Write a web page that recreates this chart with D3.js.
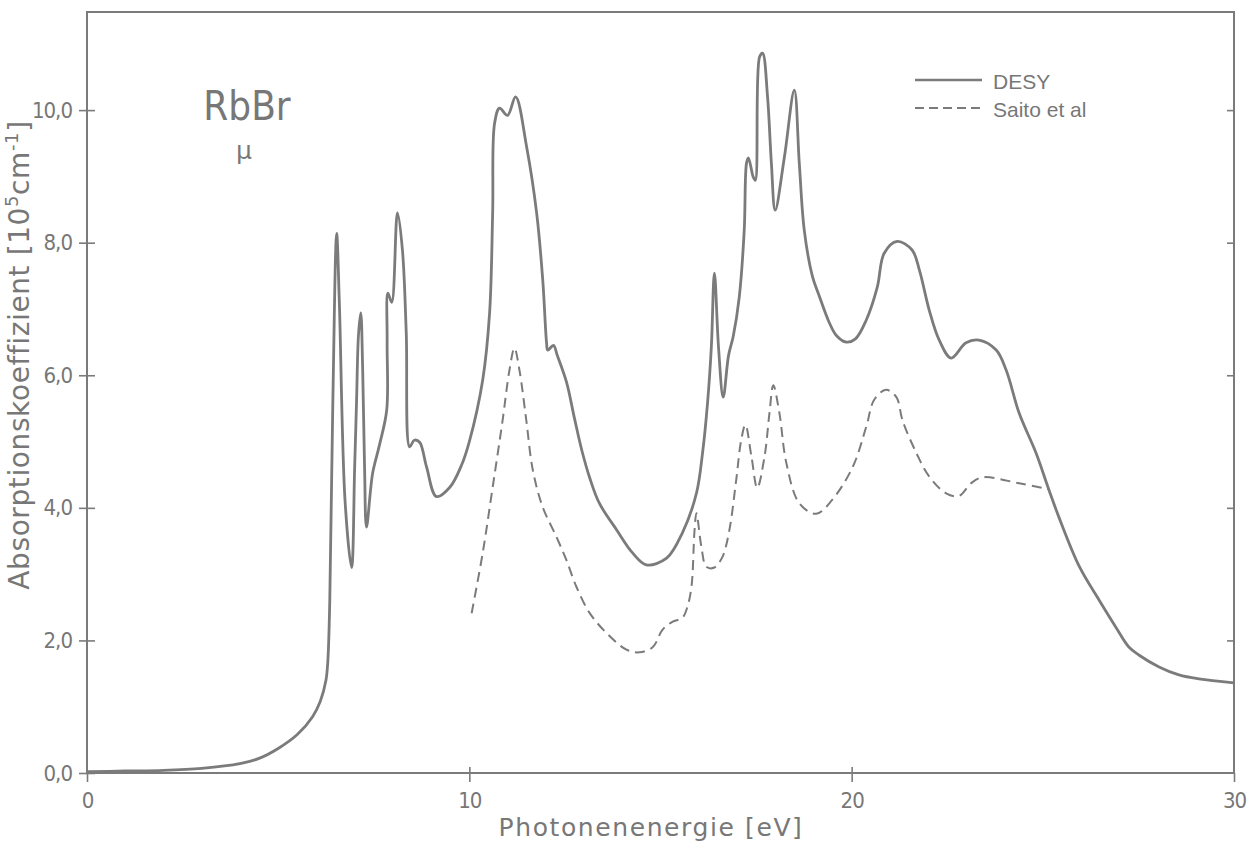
<!DOCTYPE html>
<html>
<head>
<meta charset="utf-8">
<script src="https://cdn.jsdelivr.net/npm/d3@7"></script>
<style>
  body { margin: 0; background: #fff; }
  text { fill: #777; font-family: "DejaVu Sans", sans-serif; }
</style>
</head>
<body>
<script>
// DESY measurement (photon energy in eV, absorption in 10^5 cm^-1)
var desyE = [0, 1, 2, 3, 4, 4.5, 5.0, 5.5, 5.9, 6.1, 6.25, 6.3, 6.35, 6.43, 6.53, 6.6, 6.75, 6.92,
  7.0, 7.05, 7.1, 7.16, 7.21, 7.26, 7.31, 7.47, 7.65, 7.84, 7.85, 7.87, 7.97, 8.12, 8.25, 8.35, 8.44,
  8.56, 8.70, 8.88, 9.14, 9.49, 9.8, 10.0, 10.35, 10.53, 10.61, 10.66, 10.79, 11.0, 11.21, 11.5, 11.76,
  11.92, 12.02, 12.05, 12.2, 12.3, 12.54, 12.75, 12.95, 13.15, 13.4, 13.85, 14.27, 14.63, 15.16, 15.57,
  15.94, 16.1, 16.23, 16.33, 16.41, 16.52, 16.64, 16.78, 16.9, 17.06, 17.19, 17.25, 17.3, 17.42, 17.48,
  17.59, 17.67, 17.8, 17.9, 18.0, 18.24, 18.5, 18.63, 18.76, 18.97, 19.15, 19.41, 19.6, 19.86, 20.1,
  20.38, 20.67, 20.85, 21.19, 21.58, 21.77, 22.03, 22.29, 22.6, 22.99, 23.33, 23.78, 24.04, 24.38,
  24.82, 25.16, 25.42, 25.95, 26.47, 26.91, 27.25, 27.51, 28.04, 28.56, 29.08, 30];
var desyMu = [0.02, 0.03, 0.04, 0.07, 0.14, 0.22, 0.37, 0.58, 0.85, 1.08, 1.4, 1.7, 2.6, 5.6, 8.14, 7.1, 4.1, 3.1,
  4.6, 5.6, 6.6, 6.94, 6.1, 4.6, 3.71, 4.52, 4.95, 5.48, 6.5, 7.24, 7.1, 8.45, 7.89, 6.64, 4.92,
  5.02, 4.99, 4.62, 4.17, 4.31, 4.65, 5.0, 5.93, 6.94, 8.45, 9.8, 10.03, 9.92, 10.2, 9.44, 8.45,
  7.44, 6.49, 6.38, 6.45, 6.3, 5.9, 5.35, 4.85, 4.45, 4.07, 3.67, 3.32, 3.14, 3.24, 3.62,
  4.22, 4.83, 5.58, 6.43, 7.54, 6.4, 5.67, 6.3, 6.58, 7.18, 8.19, 9.2, 9.28, 9.0, 8.94,
  10.8, 10.86, 10.2, 9.2, 8.49, 9.29, 10.3, 9.2, 8.19, 7.5, 7.2, 6.8, 6.6, 6.5, 6.55,
  6.83, 7.33, 7.84, 8.02, 7.89, 7.59, 6.98, 6.53, 6.26, 6.49, 6.53, 6.38, 6.08, 5.43,
  4.83, 4.27, 3.86, 3.12, 2.61, 2.2, 1.9, 1.78, 1.6, 1.48, 1.42, 1.36];

// Saito et al
var saitoE = [10.06, 10.35, 10.61, 10.87, 11.05, 11.18, 11.31, 11.49, 11.66, 11.92, 12.28, 12.54, 12.8,
  13.14, 13.59, 14.11, 14.45, 14.8, 15.05, 15.31, 15.57, 15.7, 15.81, 15.89, 15.94, 16.07, 16.2, 16.41,
  16.62, 16.8, 16.98, 17.11, 17.22, 17.38, 17.53, 17.72, 17.85, 17.95, 18.11, 18.29, 18.63, 19.07,
  19.49, 20.03, 20.38, 20.59, 20.9, 21.17, 21.33, 21.69, 22.03, 22.47, 22.81, 23.12, 23.42, 24.38, 25.16];
var saitoMu = [2.41, 3.32, 4.31, 5.32, 6.08, 6.41, 6.08, 5.32, 4.57, 4.01, 3.56, 3.21, 2.81,
  2.42, 2.11, 1.86, 1.82, 1.9, 2.16, 2.28, 2.34, 2.5, 2.81, 3.66, 3.92, 3.41, 3.11, 3.1,
  3.26, 3.66, 4.42, 5.02, 5.25, 4.77, 4.3, 4.77, 5.43, 5.85, 5.43, 4.68, 4.07, 3.91,
  4.12, 4.62, 5.22, 5.63, 5.78, 5.67, 5.32, 4.83, 4.47, 4.22, 4.18, 4.37, 4.46, 4.37, 4.28];

var xTicks = [0, 10, 20, 30];
var yTicks = [0, 2, 4, 6, 8, 10];
var seriesNames = ["DESY", "Saito et al"];

var desy = desyE.map(function (e, i) { return { e: e, v: desyMu[i] }; });
var saito = saitoE.map(function (e, i) { return { e: e, v: saitoMu[i] }; });

var ink = "#7b7b7b";
var margin = { top: 12, right: 17, bottom: 72, left: 87 },
    width = 1251 - margin.left - margin.right,
    height = 845 - margin.top - margin.bottom;

var svg = d3.select("body").append("svg")
    .attr("width", 1251)
    .attr("height", 845)
  .append("g")
    .attr("transform", "translate(" + margin.left + "," + margin.top + ")");

var x = d3.scaleLinear().domain([0, 30]).range([0, width]);
var y = d3.scaleLinear().domain([0, 11.48]).range([height, 0]);

var comma = function (d) { return d3.format(".1f")(d).replace(".", ","); };

// frame
svg.append("rect")
    .attr("width", width).attr("height", height)
    .attr("fill", "none").attr("stroke", ink).attr("stroke-width", 2);

// left axis, ticks cross the frame line
svg.append("g")
    .call(d3.axisLeft(y).tickValues(yTicks).tickSize(8).tickPadding(7).tickFormat(comma));
svg.append("g")
    .call(d3.axisRight(y).tickValues(yTicks).tickSize(8).tickFormat(""));
// right side, inward ticks
svg.append("g")
    .attr("transform", "translate(" + width + ",0)")
    .call(d3.axisLeft(y).tickValues(yTicks.slice(1)).tickSize(7).tickFormat(""));

// bottom axis
svg.append("g")
    .attr("transform", "translate(0," + height + ")")
    .call(d3.axisBottom(x).tickValues(xTicks).tickSize(9).tickPadding(10).tickFormat(d3.format("d")));
svg.append("g")
    .attr("transform", "translate(0," + height + ")")
    .call(d3.axisTop(x).tickValues([10, 20]).tickSize(6).tickFormat(""));

svg.selectAll(".domain").remove();
svg.selectAll(".tick line").attr("stroke", ink).attr("stroke-width", 1.6);
svg.selectAll(".tick text")
    .attr("fill", ink)
    .style("font-family", "'DejaVu Sans Condensed', 'DejaVu Sans', sans-serif")
    .style("font-size", "22px")
    .style("letter-spacing", "-1px");

// curves
var line = d3.line()
    .x(function (d) { return x(d.e); })
    .y(function (d) { return y(d.v); })
    .curve(d3.curveCatmullRom.alpha(0.5));

svg.append("path")
    .datum(desy)
    .attr("d", line)
    .attr("fill", "none")
    .attr("stroke", ink)
    .attr("stroke-width", 2.8)
    .attr("stroke-linejoin", "round");

svg.append("path")
    .datum(saito)
    .attr("d", line)
    .attr("fill", "none")
    .attr("stroke", ink)
    .attr("stroke-width", 2)
    .attr("stroke-dasharray", "10,6");

// axis titles
svg.append("text")
    .attr("x", 564)
    .attr("y", 824)
    .attr("text-anchor", "middle")
    .style("font-size", "25px")
    .style("letter-spacing", "1.6px")
    .text("Photonenenergie  [eV]");

var yt = svg.append("text")
    .attr("transform", "translate(-58," + (355 - margin.top) + ") rotate(-90)")
    .attr("text-anchor", "middle")
    .style("font-size", "28px")
    .style("letter-spacing", "0.6px");
yt.append("tspan").text("Absorptionskoeffizient  [10");
yt.append("tspan").attr("dy", -11).style("font-size", "18px").text("5");
yt.append("tspan").attr("dy", 11).text("cm");
yt.append("tspan").attr("dy", -11).style("font-size", "18px").text("-1");
yt.append("tspan").attr("dy", 11).text("]");

// compound label
svg.append("text")
    .attr("x", 160)
    .attr("y", 108)
    .attr("text-anchor", "middle")
    .style("font-family", "'DejaVu Sans Condensed', 'DejaVu Sans', sans-serif")
    .style("font-size", "40px")
    .text("RbBr");
svg.append("text")
    .attr("x", 157)
    .attr("y", 147)
    .attr("text-anchor", "middle")
    .style("font-size", "25px")
    .text("μ");

// legend
var legend = svg.append("g").attr("transform", "translate(" + (915 - margin.left) + "," + (80 - margin.top) + ")");
legend.selectAll("line")
    .data(seriesNames)
    .enter().append("line")
    .attr("x1", 0).attr("x2", 67)
    .attr("y1", function (d, i) { return i * 28; })
    .attr("y2", function (d, i) { return i * 28; })
    .attr("stroke", ink)
    .attr("stroke-width", function (d, i) { return i ? 1.8 : 2.4; })
    .attr("stroke-dasharray", function (d, i) { return i ? "9,5" : null; });
legend.selectAll("text")
    .data(seriesNames)
    .enter().append("text")
    .attr("x", 78)
    .attr("y", function (d, i) { return i * 28 + 9; })
    .style("font-family", "'Liberation Sans', Arial, sans-serif")
    .style("font-size", "21px")
    .text(function (d) { return d; });
</script>
</body>
</html>
